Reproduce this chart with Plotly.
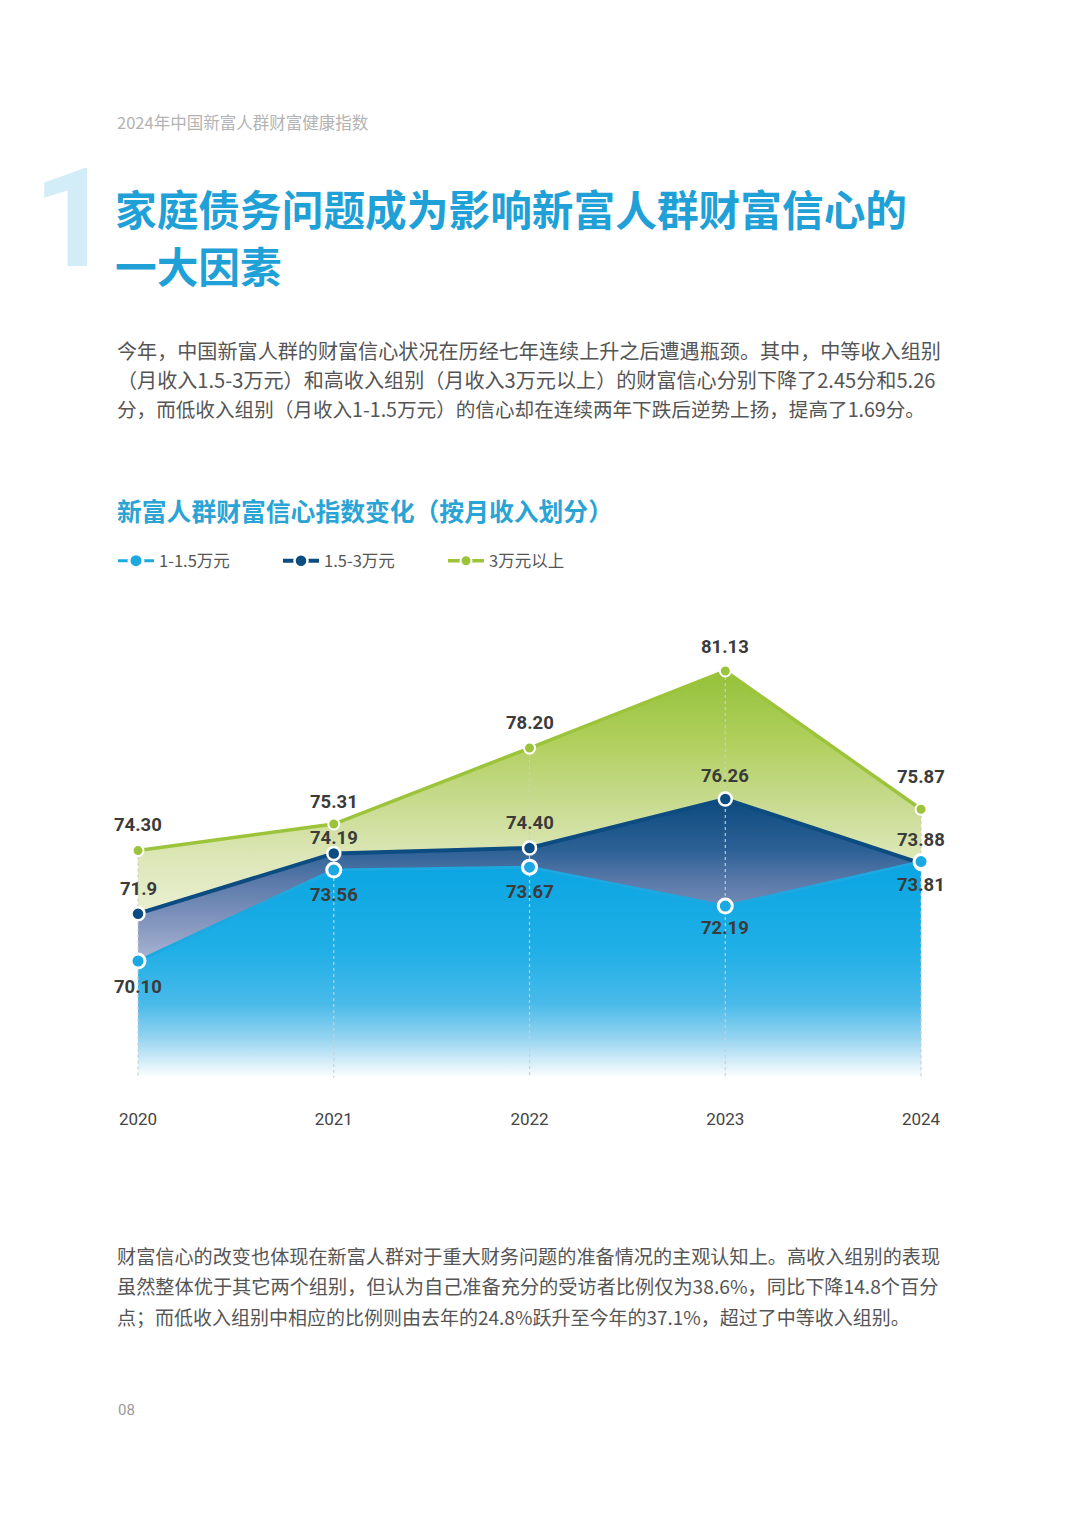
import plotly.graph_objects as go

# ---------------- data ----------------
years = [2020, 2021, 2022, 2023, 2024]
year_labels = ["2020", "2021", "2022", "2023", "2024"]
series_names = ["1-1.5万元", "1.5-3万元", "3万元以上"]
low_income = [70.10, 73.56, 73.67, 72.19, 73.88]      # 1-1.5万元
mid_income = [71.9, 74.19, 74.40, 76.26, 73.81]       # 1.5-3万元
high_income = [74.30, 75.31, 78.20, 81.13, 75.87]     # 3万元以上
low_labels = ["70.10", "73.56", "73.67", "72.19", "73.88"]
mid_labels = ["71.9", "74.19", "74.40", "76.26", "73.81"]
high_labels = ["74.30", "75.31", "78.20", "81.13", "75.87"]

# ---------------- style ----------------
W, H = 1080, 1515
Y_MIN, Y_MAX = 65.65, 83.83
X_MIN, X_MAX = 2019.295, 2024.812
PLOT_TOP_PX, PLOT_BOTTOM_PX = 600, 1078

CJK = "Noto Sans CJK SC"
NUM = "Roboto"

green_line = "#9CC43A"
dark_line = "#0C4C80"
light_line = "#1CA8E0"

# label offsets in px (negative = above) per point
low_shift = [26, 25, 25, 22, -22]
mid_shift = [-25, -15, -25, -23, 22]
high_shift = [-26, -22, -25, -24, -32]


def px_to_paper_x(px):
    return px / W


def px_to_paper_y(py):
    return 1 - py / H


def gradient(stops, start, stop):
    return [[(v - start) / (stop - start), c] for v, c in stops]


fig = go.Figure()

# ---- fills (drawn first) ----
fill_specs = [
    (high_income, [(Y_MIN, "#f6f8ec"), (72.0, "#e9efd0"), (74.0, "#dde7b8"),
                   (76.3, "#c6da8c"), (78.5, "#b0cf5c"), (max(high_income), "#93c13a")]),
    (mid_income, [(Y_MIN, "#cfd6e8"), (70.3, "#a4b1d0"), (71.5, "#8597bf"),
                  (73.2, "#5878a8"), (74.3, "#2d6196"), (max(mid_income), "#0c4a7e")]),
    (low_income, [(Y_MIN, "#ffffff"), (66.3, "#d2ecf8"), (67.2, "#93d3f0"),
                  (68.5, "#48baea"), (70.5, "#20afe6"), (max(low_income), "#0aa5e2")]),
]
for vals, stops in fill_specs:
    fig.add_trace(go.Scatter(
        x=years, y=vals, mode="lines", line=dict(width=0),
        fill="tozeroy",
        fillgradient=dict(type="vertical",
                          colorscale=gradient(stops, Y_MIN, max(vals)),
                          start=Y_MIN, stop=max(vals)),
        showlegend=False, hoverinfo="skip"))

# ---- dotted vertical guides ----
gx, gy = [], []
for i, yr in enumerate(years):
    top = max(low_income[i], mid_income[i], high_income[i])
    gx += [yr, yr, None]
    gy += [top, Y_MIN, None]
fig.add_trace(go.Scatter(x=gx, y=gy, mode="lines",
                         line=dict(color="rgba(205,205,205,0.95)", width=1.2, dash="dot"),
                         showlegend=False, hoverinfo="skip"))

# ---- lines + markers ----
line_specs = [
    (high_income, series_names[2], green_line, 3.5, 11, 2.0, 3),
    (mid_income, series_names[1], dark_line, 4, 13, 2.5, 2),
    (low_income, series_names[0], light_line, 3, 14, 3.0, 1),
]
for vals, name, col, lw, ms, mlw, rank in line_specs:
    fig.add_trace(go.Scatter(
        x=years, y=vals, mode="lines+markers", name=name,
        line=dict(color=col, width=lw),
        marker=dict(size=ms, color=col, line=dict(color="white", width=mlw)),
        legendrank=rank, hoverinfo="skip"))

# ---- value labels ----
annotations = []
for vals, labels, shifts in [(high_income, high_labels, high_shift),
                             (mid_income, mid_labels, mid_shift),
                             (low_income, low_labels, low_shift)]:
    for yr, v, t, s in zip(years, vals, labels, shifts):
        annotations.append(dict(
            x=yr, y=v, xref="x", yref="y", text=t, showarrow=False,
            yshift=-s, xanchor="center", yanchor="middle",
            font=dict(family=NUM, size=18.5, color="#3b3b3b", weight="bold")))

# ---- page text ----
def page_text(px, py, text, size, color, family=CJK, weight="normal", anchor="left"):
    annotations.append(dict(
        x=px_to_paper_x(px), y=px_to_paper_y(py), xref="paper", yref="paper",
        text=text, showarrow=False, xanchor=anchor, yanchor="middle",
        font=dict(family=family, size=size, color=color, weight=weight)))

page_text(115, 122, "2024年中国新富人群财富健康指数", 16.5, "#b3b3b3")
page_text(31, 219, "1", 138, "#d2ecf8", family=NUM, weight="bold")
page_text(113, 208, "家庭债务问题成为影响新富人群财富信心的", 41.7, "#1FA1D7", weight="bold")
page_text(113, 265, "一大因素", 41.7, "#1FA1D7", weight="bold")

para1 = [
    "今年，中国新富人群的财富信心状况在历经七年连续上升之后遭遇瓶颈。其中，中等收入组别",
    "（月收入1.5-3万元）和高收入组别（月收入3万元以上）的财富信心分别下降了2.45分和5.26",
    "分，而低收入组别（月收入1-1.5万元）的信心却在连续两年下跌后逆势上扬，提高了1.69分。",
]
para1_sizes = [20.1, 20.1, 19.6]
for i, line in enumerate(para1):
    page_text(115, 350 + i * 29.5, line, para1_sizes[i], "#555555")

page_text(115, 510, "新富人群财富信心指数变化（按月收入划分）", 24.8, "#2AA4D5", weight="bold")

para2 = [
    "财富信心的改变也体现在新富人群对于重大财务问题的准备情况的主观认知上。高收入组别的表现",
    "虽然整体优于其它两个组别，但认为自己准备充分的受访者比例仅为38.6%，同比下降14.8个百分",
    "点；而低收入组别中相应的比例则由去年的24.8%跃升至今年的37.1%，超过了中等收入组别。",
]
para2_sizes = [19.15, 19.2, 19.0]
for i, line in enumerate(para2):
    page_text(115, 1256 + i * 30, line, para2_sizes[i], "#555555")

page_text(116, 1410, "08", 15, "#9a9a9a", family=NUM)

fig.update_layout(
    width=W, height=H,
    margin=dict(l=0, r=0, t=0, b=0),
    paper_bgcolor="white", plot_bgcolor="rgba(0,0,0,0)",
    showlegend=True,
    legend=dict(orientation="h", x=px_to_paper_x(113), y=px_to_paper_y(561),
                xanchor="left", yanchor="middle",
                entrywidth=114, itemwidth=36,
                font=dict(family=CJK, size=16.5, color="#555555"),
                bgcolor="rgba(0,0,0,0)"),
    xaxis=dict(range=[X_MIN, X_MAX], domain=[0, 1],
               tickvals=years, ticktext=year_labels,
               ticks="outside", ticklen=26, tickcolor="rgba(0,0,0,0)",
               tickfont=dict(family=NUM, size=17, color="#444444"),
               showgrid=False, zeroline=False, showline=False, fixedrange=True),
    yaxis=dict(range=[Y_MIN, Y_MAX],
               domain=[1 - PLOT_BOTTOM_PX / H, 1 - PLOT_TOP_PX / H],
               visible=False, showgrid=False, zeroline=False, fixedrange=True),
    annotations=annotations,
)

fig.write_html("out.html",
               config={"displayModeBar": False},
               post_script="document.body.style.margin='0';document.body.style.padding='0';")
